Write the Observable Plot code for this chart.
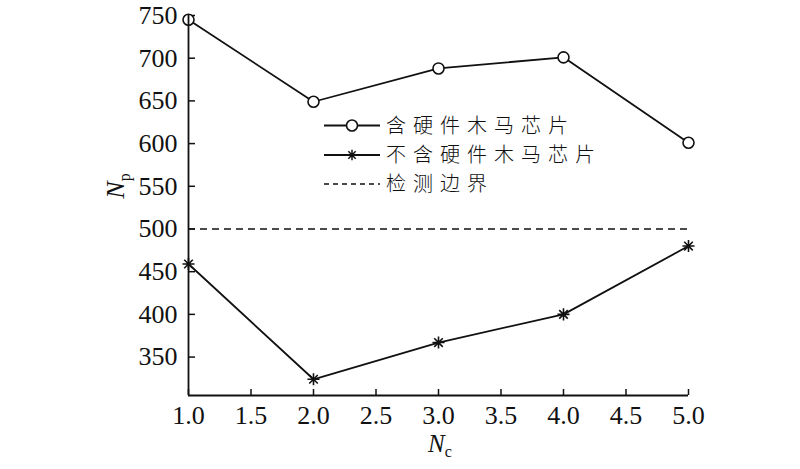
<!DOCTYPE html>
<html>
<head>
<meta charset="utf-8">
<script src="https://cdn.jsdelivr.net/npm/d3@7"></script>
<script src="https://cdn.jsdelivr.net/npm/@observablehq/plot@0.6"></script>
<style>
  html, body { margin: 0; padding: 0; background: #fff; }
  #chart { width: 800px; height: 469px; position: relative; }
</style>
</head>
<body>
<div id="chart"></div>
<script>
const nc = [1.0, 2.0, 3.0, 4.0, 5.0];
const withTrojan = [745, 649, 688, 701, 601];
const withoutTrojan = [459, 324, 367, 400, 480];
const threshold = 500;
const xTicks = [1.0, 1.5, 2.0, 2.5, 3.0, 3.5, 4.0, 4.5, 5.0];
const yTicks = [350, 400, 450, 500, 550, 600, 650, 700, 750];
const seriesNames = ["含硬件木马芯片", "不含硬件木马芯片", "检测边界"];
const xDomain = [1, 5];
const yDomain = [305, 750];

const rowsA = nc.map((x, i) => ({x, y: withTrojan[i]}));
const rowsB = nc.map((x, i) => ({x, y: withoutTrojan[i]}));

// 8-armed asterisk symbol
const star8 = {
  draw(ctx, size) {
    const r = Math.sqrt(size) * 0.62;
    for (let k = 0; k < 4; k++) {
      const a = k * Math.PI / 4;
      const dx = r * Math.cos(a), dy = r * Math.sin(a);
      ctx.moveTo(-dx, -dy);
      ctx.lineTo(dx, dy);
    }
  }
};

const serif = "'Liberation Serif', 'Times New Roman', serif";

const plot = Plot.plot({
  width: 800,
  height: 469,
  marginLeft: 188,
  marginRight: 112,
  marginTop: 15,
  marginBottom: 74,
  style: { fontFamily: serif, fontSize: "26px", color: "#111", background: "#fff", overflow: "visible" },
  x: { domain: xDomain, ticks: xTicks, tickFormat: d3.format(".1f") },
  y: { domain: yDomain, ticks: yTicks },
  marks: [
    Plot.axisX({ ticks: xTicks, tickSize: -6, tickPadding: 16, tickFormat: d3.format(".1f"), label: null, fontSize: 26, stroke: "#111", strokeWidth: 1.5 }),
    Plot.axisY({ ticks: yTicks, tickSize: -7, tickPadding: 18, label: null, fontSize: 26, stroke: "#111", strokeWidth: 1.5 }),
    Plot.ruleY([threshold], { x1: xDomain[0], x2: xDomain[1], stroke: "#111", strokeWidth: 1.3, strokeDasharray: "7,5" }),
    Plot.line(rowsA, { x: "x", y: "y", stroke: "#111", strokeWidth: 1.8 }),
    Plot.line(rowsB, { x: "x", y: "y", stroke: "#111", strokeWidth: 1.8 }),
    Plot.dot(rowsA, { x: "x", y: "y", r: 5.5, stroke: "#111", fill: "#fff", strokeWidth: 1.6 }),
    Plot.dot(rowsB, { x: "x", y: "y", r: 5.5, symbol: star8, stroke: "#111", fill: "none", strokeWidth: 1.6 }),
    Plot.ruleX([xDomain[0]], { y1: yDomain[0], y2: yDomain[1], stroke: "#111", strokeWidth: 1.8 }),
    Plot.ruleY([yDomain[0]], { x1: xDomain[0], x2: xDomain[1], stroke: "#111", strokeWidth: 1.8 })
  ]
});

document.getElementById("chart").appendChild(plot);

const svg = d3.select(plot);

// Axis titles with subscripts
const yl = svg.append("text")
  .attr("transform", "translate(124,186) rotate(-90)")
  .attr("text-anchor", "middle")
  .style("font-family", serif)
  .style("font-size", "26px")
  .attr("fill", "#111");
yl.append("tspan").attr("font-style", "italic").text("N");
yl.append("tspan").attr("font-size", "16px").attr("dy", 6).text("p");

const xl = svg.append("text")
  .attr("transform", "translate(440,452)")
  .attr("text-anchor", "middle")
  .style("font-family", serif)
  .style("font-size", "25px")
  .attr("fill", "#111");
xl.append("tspan").attr("font-style", "italic").text("N");
xl.append("tspan").attr("font-size", "16px").attr("dy", 5).text("c");

// Legend
const lg = svg.append("g").attr("text-anchor", "start");
const rowY = [125.5, 155, 184];
seriesNames.forEach((name, i) => {
  const y = rowY[i];
  lg.append("line").attr("x1", 324).attr("x2", 380).attr("y1", y).attr("y2", y)
    .attr("stroke", "#111").attr("stroke-width", i === 2 ? 1.3 : 1.8)
    .attr("stroke-dasharray", i === 2 ? "5,4" : null);
  if (i === 0) {
    lg.append("circle").attr("cx", 352).attr("cy", y).attr("r", 5.5)
      .attr("fill", "#fff").attr("stroke", "#111").attr("stroke-width", 1.6);
  } else if (i === 1) {
    lg.append("path").attr("transform", `translate(352,${y})`)
      .attr("d", d3.symbol(star8, 70)()).attr("stroke", "#111").attr("stroke-width", 1.5).attr("fill", "none");
  }
  lg.append("text").attr("x", 386).attr("y", y).attr("dy", "0.36em")
    .attr("text-anchor", "start")
    .style("font-family", "'Noto Sans CJK SC', sans-serif")
    .style("font-size", "20px").style("letter-spacing", "7px").style("font-weight", "300")
    .attr("fill", "#111").text(name);
});
</script>
</body>
</html>
